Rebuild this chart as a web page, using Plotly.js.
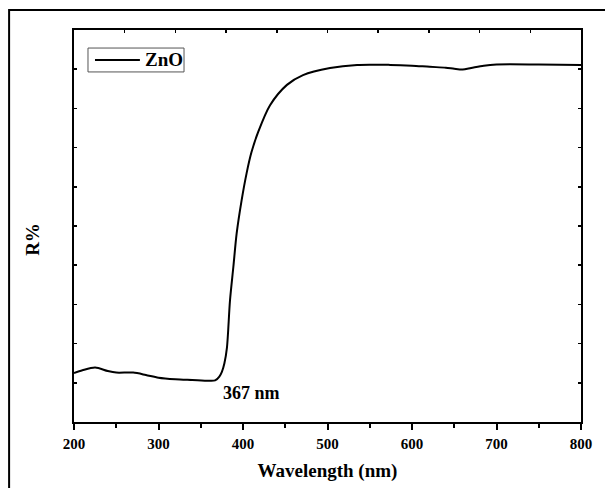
<!DOCTYPE html>
<html>
<head>
<meta charset="utf-8">
<script src="https://cdn.plot.ly/plotly-3.0.1.min.js"></script>
<style>html,body{margin:0;padding:0;background:#fff;}#chart{width:605px;height:488px;}</style>
</head>
<body>
<div id="chart"></div>
<script>
// Wavelength (nm)
var wavelength = [200, 210, 225, 240, 250, 270, 285, 300, 320, 340, 360, 367, 372, 375, 378, 381, 384.6, 388.6, 392.5, 398.4, 404.3, 410, 418, 432, 452, 471, 503, 535, 574, 600, 621, 640, 650, 660, 670, 685, 700, 750, 800];
// Reflectance R% (arbitrary units)
var reflectance = [12.5, 13.2, 13.9, 13.0, 12.6, 12.6, 12.0, 11.3, 10.9, 10.7, 10.5, 10.6, 11.6, 12.8, 15.0, 19.0, 31.0, 39.6, 48.1, 56.6, 63.5, 68.8, 74.0, 80.8, 86.0, 88.5, 90.3, 91.1, 91.1, 90.9, 90.6, 90.4, 90.1, 89.9, 90.3, 90.9, 91.2, 91.2, 91.1];
var seriesName = 'ZnO';
var xTicks = [200, 300, 400, 500, 600, 700, 800];
var xTitle = 'Wavelength (nm)';
var yTitle = 'R%';
var annotationText = '367 nm';
var annotationPos = [410.6, 7.4];

var font = {family: '"Liberation Serif", "Times New Roman", serif', color: '#000', weight: 'bold'};
function f(size) { return Object.assign({}, font, {size: size}); }

var traces = [
  {x: wavelength, y: reflectance, type: 'scatter', mode: 'lines', name: seriesName, showlegend: false,
   line: {color: '#000', width: 2, shape: 'spline', smoothing: 0.8}},
  {x: [], y: [], xaxis: 'x2', yaxis: 'y', type: 'scatter', mode: 'lines', showlegend: false, hoverinfo: 'skip'}
];

var layout = {
  width: 605, height: 488,
  margin: {l: 74, r: 24, t: 30, b: 66},
  paper_bgcolor: '#fff', plot_bgcolor: '#fff',
  font: f(15),
  showlegend: false,
  xaxis: {range: [200, 800], tickvals: xTicks, ticks: 'outside', ticklen: 6, tickwidth: 2,
          tickcolor: '#000', showline: true, linecolor: '#000', linewidth: 2, showgrid: false,
          zeroline: false, tickfont: f(15), ticklabelstandoff: 1,
          minor: {dtick: 50, ticks: 'outside', ticklen: 4, tickwidth: 2, tickcolor: '#000', showgrid: false},
          title: {text: xTitle, font: f(19), standoff: 13}},
  xaxis2: {overlaying: 'x', side: 'top', range: [0, 10], dtick: 1, ticks: 'inside', ticklen: 3,
           tickwidth: 1.5, tickcolor: '#000', showticklabels: false, showline: true,
           linecolor: '#000', linewidth: 2, showgrid: false, zeroline: false},
  yaxis: {range: [0, 100], dtick: 10, ticks: 'inside', ticklen: 3, tickwidth: 1.5, tickcolor: '#000',
          showticklabels: false, showline: true, linecolor: '#000', linewidth: 2, mirror: 'ticks',
          showgrid: false, zeroline: false},
  annotations: [
    {x: annotationPos[0], y: annotationPos[1], xref: 'x', yref: 'y', text: annotationText,
     showarrow: false, font: f(18)},
    {x: -0.081, y: 0.467, xref: 'paper', yref: 'paper', xanchor: 'center', yanchor: 'middle',
     text: yTitle, textangle: -90, showarrow: false, font: f(19)},
    {x: 0.136, y: 0.9235, xref: 'paper', yref: 'paper', xanchor: 'left', yanchor: 'middle',
     text: seriesName, showarrow: false, font: f(19)}
  ],
  shapes: [
    {type: 'rect', xref: 'paper', yref: 'paper', x0: -0.128, x1: 1.15, y0: -0.25, y1: 1.051,
     line: {color: '#000', width: 2}, fillcolor: 'rgba(0,0,0,0)', layer: 'above'},
    {type: 'rect', xref: 'paper', yref: 'paper', x0: 0.0276, x1: 0.217, y0: 0.893, y1: 0.954,
     line: {color: '#555', width: 1}, fillcolor: '#fff', layer: 'above'},
    {type: 'line', xref: 'paper', yref: 'paper', x0: 0.0414, x1: 0.130, y0: 0.9235, y1: 0.9235,
     line: {color: '#000', width: 2}, layer: 'above'}
  ]
};

Plotly.newPlot('chart', traces, layout, {displayModeBar: false, staticPlot: true});
</script>
</body>
</html>
